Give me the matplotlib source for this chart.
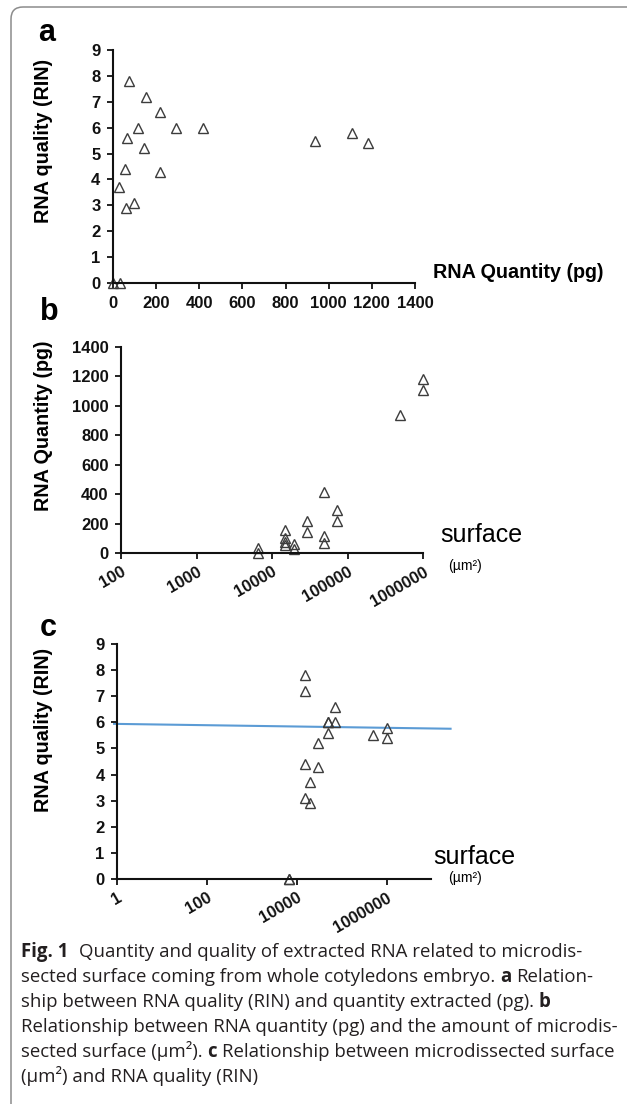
import numpy as np
import matplotlib
matplotlib.use('Agg')
import matplotlib.pyplot as plt
from matplotlib.patches import FancyBboxPatch
from matplotlib.transforms import IdentityTransform
from matplotlib.ticker import NullLocator

# one row per microdissected sample
surface = [6600, 6600, 15000, 15000, 15000, 15000, 19300, 19300, 29300, 29300,
           49000, 49000, 49000, 71500, 71500, 495000, 1000000, 1000000]
quantity = [0, 34, 153, 99, 73, 56, 28, 62, 144, 217,
            415, 114, 67, 290, 220, 935, 1108, 1183]
rin = [0, 0, 7.2, 3.1, 7.8, 4.4, 3.7, 2.9, 5.2, 4.3,
       6.0, 6.0, 5.6, 6.0, 6.6, 5.5, 5.8, 5.4]

# log trend line of panel c (RIN = a + b*log10(surface))
trend_x = [0.86, 2.6e7]
trend_a = 5.94
trend_b = -0.025

a_xticks = [0, 200, 400, 600, 800, 1000, 1200, 1400]
rin_ticks = [0, 1, 2, 3, 4, 5, 6, 7, 8, 9]
b_xticks = [100, 1000, 10000, 100000, 1000000]
b_yticks = [0, 200, 400, 600, 800, 1000, 1200, 1400]
c_xticks = [1, 100, 10000, 1000000]

caption = [
    [("Fig. 1", True), ("Quantity and quality of extracted RNA related to microdis-", False)],
    [("sected surface coming from whole cotyledons embryo.", False), ("a", True), ("Relation-", False)],
    [("ship between RNA quality (RIN) and quantity extracted (pg).", False), ("b", True)],
    [("Relationship between RNA quantity (pg) and the amount of microdis-", False)],
    [("sected surface (µm²).", False), ("c", True), ("Relationship between microdissected surface", False)],
    [("(µm²) and RNA quality (RIN)", False)],
]

W, H = 627, 1104
plt.rcParams['font.family'] = ['Liberation Sans', 'DejaVu Sans']
plt.rcParams['font.weight'] = 'bold'

fig = plt.figure(figsize=(W / 100, H / 100), dpi=100)
fig.patch.set_facecolor('white')


def px_axes(x0, x1, ytop, ybot):
    return fig.add_axes([x0 / W, 1 - ybot / H, (x1 - x0) / W, (ybot - ytop) / H])


def style(ax):
    ax.patch.set_visible(False)
    for s in ['top', 'right']:
        ax.spines[s].set_visible(False)
    for s in ['left', 'bottom']:
        ax.spines[s].set_linewidth(1.5)
        ax.spines[s].set_color('#111111')
    ax.tick_params(direction='out', length=4, width=1.3, labelsize=12, pad=5, colors='#111111')


def label(x, y, txt, **kw):
    fig.text(x / W, 1 - y / H, txt, **kw)


mk = dict(ls='none', marker='^', ms=7, mfc='none', mec='#3c3c3c', mew=1.0, clip_on=False)
lab = dict(fontsize=14.2, fontweight='bold', rotation=90, ha='center', va='center')

# ---- panel a
ax = px_axes(113, 415, 50, 283)
style(ax)
ax.plot(quantity, rin, **mk)
ax.set_xlim(0, 1400)
ax.set_ylim(0, 9)
ax.set_xticks(a_xticks)
ax.set_yticks(rin_ticks)
label(44, 141, 'RNA quality (RIN)', **lab)
label(433, 272, 'RNA Quantity (pg)', fontsize=14.2, va='center')
label(47, 33, 'a', fontsize=22, ha='center', va='center')

# ---- panel b
ax = px_axes(121, 423, 347, 553)
style(ax)
ax.plot(surface, quantity, **mk)
ax.set_xscale('log')
ax.set_xlim(100, 1000000)
ax.set_ylim(0, 1400)
ax.set_xticks(b_xticks)
ax.set_xticklabels([str(v) for v in b_xticks], rotation=30, ha='right', va='top', rotation_mode='anchor')
ax.xaxis.set_minor_locator(NullLocator())
ax.set_yticks(b_yticks)
ax.tick_params(axis='x', pad=4)
label(44, 426, 'RNA Quantity (pg)', **lab)
label(440, 535, 'surface', fontsize=18, fontweight='normal', va='center')
label(448, 566, '(µm²)', fontsize=10, fontweight='normal', va='center')
label(49, 312, 'b', fontsize=22, ha='center', va='center')

# ---- panel c
ax = px_axes(117, 431, 644, 879)
style(ax)
ax.plot(surface, rin, **mk)
tx = np.array(trend_x)
ax.plot(tx, trend_a + trend_b * np.log10(tx), color='#5b9bd5', lw=1.5, clip_on=False, zorder=1)
ax.set_xscale('log')
ax.set_xlim(1, 10 ** 6.98)
ax.set_ylim(0, 9)
ax.set_xticks(c_xticks)
ax.set_xticklabels([str(v) for v in c_xticks], rotation=30, ha='right', va='top', rotation_mode='anchor')
ax.xaxis.set_minor_locator(NullLocator())
ax.set_yticks(rin_ticks)
ax.tick_params(axis='x', pad=4)
label(44, 730, 'RNA quality (RIN)', **lab)
label(433, 857, 'surface', fontsize=18, fontweight='normal', va='center')
label(448, 878, '(µm²)', fontsize=10, fontweight='normal', va='center')
label(48, 628, 'c', fontsize=22, ha='center', va='center')

# ---- caption, bold and regular pieces placed one after another
renderer = fig.canvas.get_renderer()
cap_size = 13.4
space = cap_size * 100 / 72 * 0.26
for i, parts in enumerate(caption):
    x = 21
    y = 957 + i * 25
    for j, (txt, bold) in enumerate(parts):
        if j > 0:
            x += space * (2.2 if i == 0 else 1)
        t = fig.text(x / W, 1 - y / H, txt, fontsize=cap_size, color='#231f20',
                     family=['Open Sans', 'DejaVu Sans'],
                     fontweight='bold' if bold else 'normal', va='baseline')
        x += t.get_window_extent(renderer).width

# rounded frame around the figure
fig.add_artist(FancyBboxPatch((11, -60), 720, 1097 + 60, boxstyle='round,pad=0,rounding_size=12',
                              transform=IdentityTransform(), fill=False, ec='#8c8c8c', lw=1.1))

fig.savefig('out.png', dpi=100)
